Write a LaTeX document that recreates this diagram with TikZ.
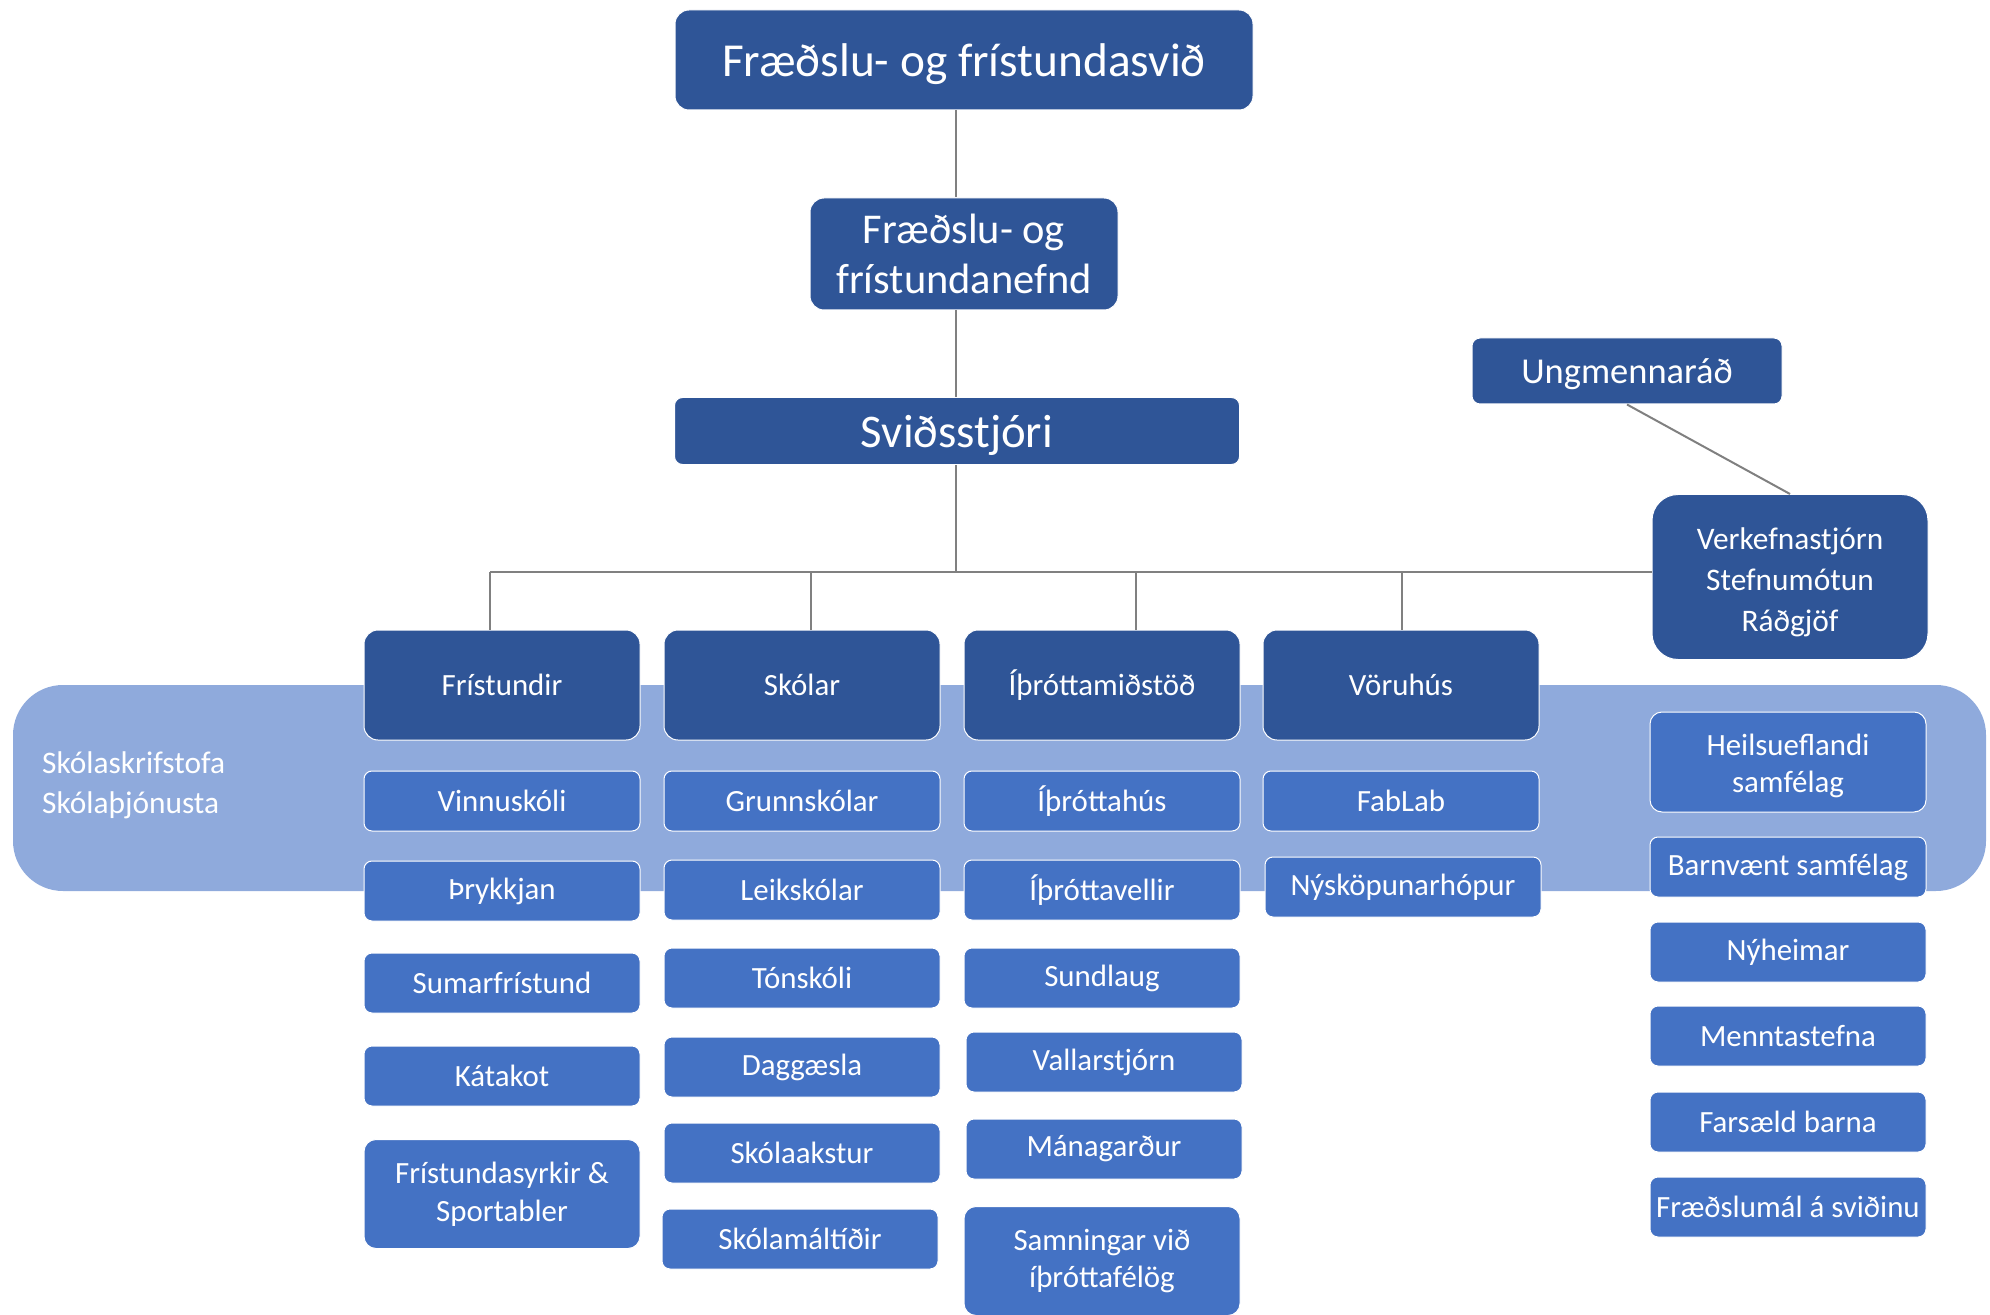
\documentclass[tikz,border=0pt]{standalone}
\usepackage{fontspec}
\setmainfont{Carlito}
\definecolor{cdark}{HTML}{2F5597}
\definecolor{cmid}{HTML}{4472C4}
\definecolor{cband}{HTML}{8FAADC}
\definecolor{cline}{HTML}{808080}
\newcommand{\mystrut}[2]{\rule[-#2]{0pt}{\dimexpr#1+#2\relax}}
\tikzset{
  box/.style={rectangle, rounded corners=10bp, draw=white, line width=1bp, text=white, align=center, inner sep=0pt},
  darkbox/.style={box, fill=cdark},
  subbox/.style={box, fill=cmid, rounded corners=8bp, minimum width=276bp, minimum height=60bp, font=\fontsize{31}{38}\selectfont},
  lvlbox/.style={box, fill=cdark, rounded corners=14bp, minimum width=276bp, minimum height=110bp, font=\fontsize{31}{38}\selectfont},
  conn/.style={draw=cline, line width=2bp}
}
\begin{document}
\begin{tikzpicture}[x=1bp, y=-1bp]
\useasboundingbox (0,0) rectangle (1990,1315);
% band
\fill[cband, rounded corners=50bp] (13,685) rectangle (1986,891);
\node[anchor=west, text=white, align=left, font=\fontsize{31.5}{40}\selectfont, inner sep=0pt] (bandtxt) at (42,785) {Skólaskrifstofa\\Skólaþjónusta};
% top levels
\node[darkbox, rounded corners=14bp, minimum width=578bp, minimum height=100bp, font=\fontsize{47.5}{54}\selectfont] (top) at (964,60) {\mystrut{43bp}{10bp}Fræðslu- og frístundasvið};
\node[darkbox, rounded corners=14bp, minimum width=308bp, minimum height=112bp, font=\fontsize{42.6}{50}\selectfont] (nefnd) at (964,254) {Fræðslu- og\\frístundanefnd};
\node[darkbox, rounded corners=8bp, minimum width=565bp, minimum height=67bp, font=\fontsize{47}{54}\selectfont] (svid) at (957,431) {\mystrut{43bp}{10bp}Sviðsstjóri};
\node[darkbox, rounded corners=8bp, minimum width=310bp, minimum height=66bp, font=\fontsize{36.6}{44}\selectfont] (ung) at (1627,371) {\mystrut{32bp}{7.7bp}Ungmennaráð};
\node[darkbox, rounded corners=26bp, minimum width=276bp, minimum height=165bp, font=\fontsize{31.5}{41}\selectfont] (ver) at (1790,577) {\mystrut{34bp}{0bp}Verkefnastjórn\\Stefnumótun\\\mystrut{0bp}{6.7bp}Ráðgjöf};
% connectors
\coordinate (bus) at (956,572);
\coordinate (d1) at (490,572);
\coordinate (d2) at (811,572);
\coordinate (d3) at (1136,572);
\coordinate (d4) at (1402,572);
\draw[conn] (top.south -| bus) -- (nefnd.north -| bus);
\draw[conn] (nefnd.south -| bus) -- (svid.north -| bus);
\draw[conn] (svid.south -| bus) -- (bus);
\draw[conn] (d1) -- (ver.west |- d1);
\draw[conn] (ung.south) -- (ver.north);
% level 1
\node[lvlbox] (fris) at (502,685) {Frístundir};
\node[lvlbox] (skol) at (802,685) {Skólar};
\node[lvlbox] (ithr) at (1102,685) {Íþróttamiðstöð};
\node[lvlbox] (voru) at (1401,685) {Vöruhús};
\draw[conn] (d1) -- (d1 |- fris.north);
\draw[conn] (d2) -- (d2 |- skol.north);
\draw[conn] (d3) -- (d3 |- ithr.north);
\draw[conn] (d4) -- (d4 |- voru.north);
% column 1
\node[subbox] (c1a) at (502,801) {Vinnuskóli};
\node[subbox] (c1b) at (502,891) {Þrykkjan};
\node[subbox] (c1c) at (502,983) {Sumarfrístund};
\node[subbox] (c1d) at (502,1076) {Kátakot};
\node[subbox, minimum height=109bp, rounded corners=12bp] (c1e) at (502,1194) {Frístundasyrkir \&\\Sportabler};
% column 2
\node[subbox] (c2a) at (802,801) {Grunnskólar};
\node[subbox] (c2b) at (802,890) {Leikskólar};
\node[subbox] (c2c) at (802,978) {Tónskóli};
\node[subbox] (c2d) at (802,1067) {Daggæsla};
\node[subbox] (c2e) at (802,1153) {Skólaakstur};
\node[subbox] (c2f) at (800,1239) {Skólamáltíðir};
% column 3
\node[subbox] (c3a) at (1102,801) {Íþróttahús};
\node[subbox] (c3b) at (1102,890) {Íþróttavellir};
\node[subbox] (c3c) at (1102,978) {Sundlaug};
\node[subbox] (c3d) at (1104,1062) {Vallarstjórn};
\node[subbox] (c3e) at (1104,1149) {Mánagarður};
\node[subbox, minimum height=109bp, rounded corners=12bp] (c3f) at (1102,1261) {Samningar við\\íþróttafélög};
% column 4
\node[subbox] (c4a) at (1401,801) {FabLab};
\node[subbox] (c4b) at (1403,887) {Nýsköpunarhópur};
% column 5
\node[subbox, minimum height=100bp, rounded corners=12bp] (c5a) at (1788,762) {\mystrut{31bp}{0bp}Heilsueflandi\\\mystrut{0bp}{7bp}samfélag};
\node[subbox] (c5b) at (1788,867) {Barnvænt samfélag};
\node[subbox] (c5c) at (1788,952) {Nýheimar};
\node[subbox] (c5d) at (1788,1036) {Menntastefna};
\node[subbox] (c5e) at (1788,1122) {Farsæld barna};
\node[subbox] (c5f) at (1788,1207) {Fræðslumál á sviðinu};
\end{tikzpicture}
\end{document}
